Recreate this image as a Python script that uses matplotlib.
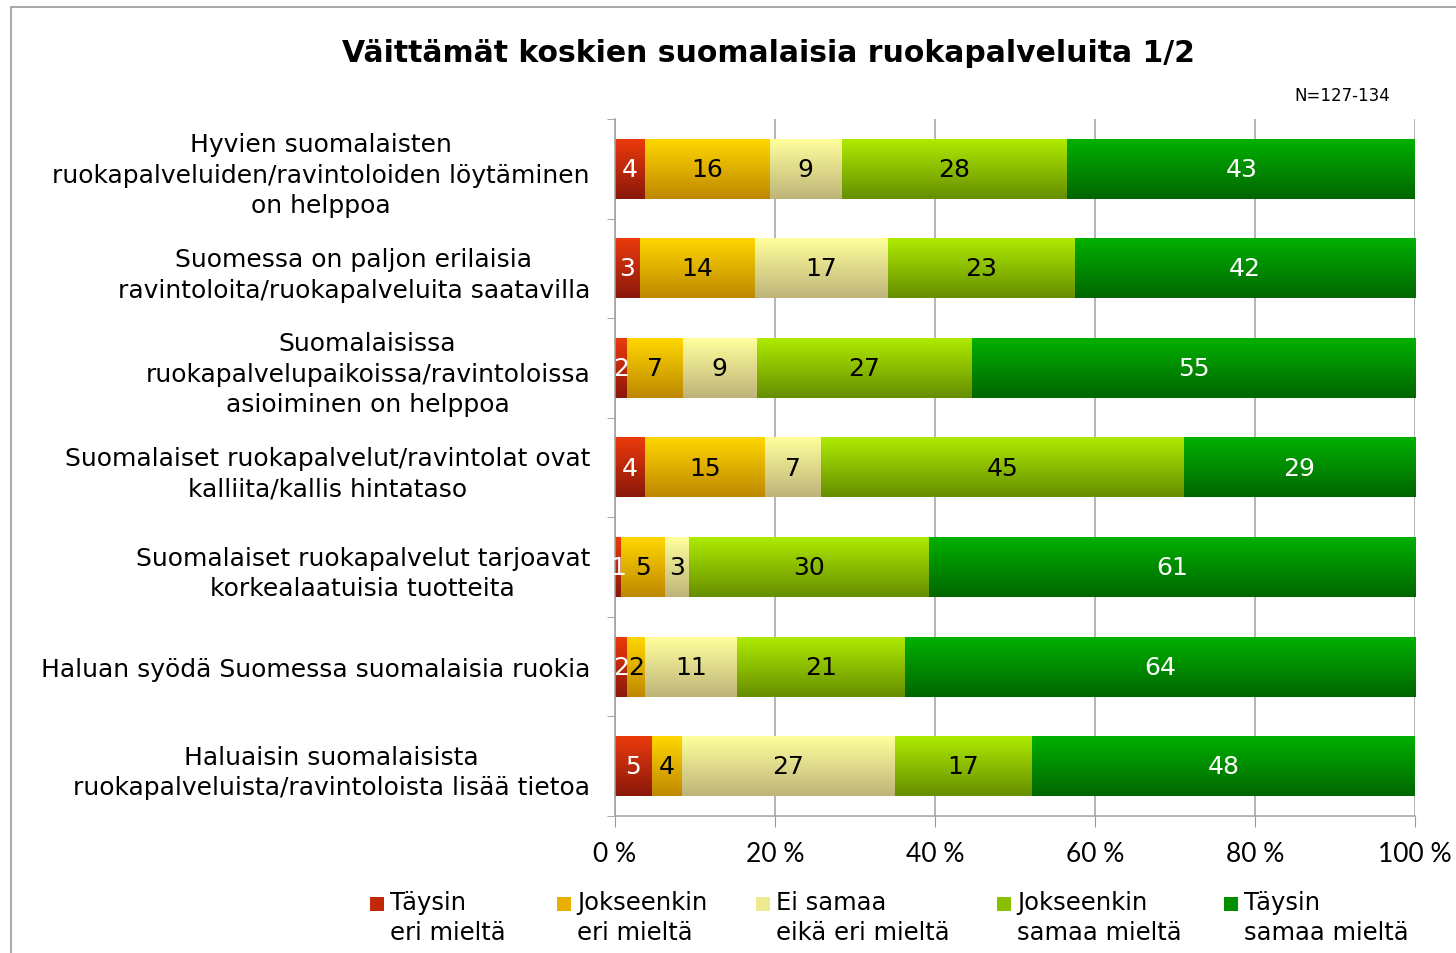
import numpy as np
import matplotlib.pyplot as plt
from matplotlib.patches import Rectangle
from matplotlib.colors import to_rgb

# Statements (top to bottom)
statements = [
    'Hyvien suomalaisten\nruokapalveluiden/ravintoloiden löytäminen\non helppoa',
    'Suomessa on paljon erilaisia\nravintoloita/ruokapalveluita saatavilla',
    'Suomalaisissa\nruokapalvelupaikoissa/ravintoloissa\nasioiminen on helppoa',
    'Suomalaiset ruokapalvelut/ravintolat ovat\nkalliita/kallis hintataso',
    'Suomalaiset ruokapalvelut tarjoavat\nkorkealaatuisia tuotteita',
    'Haluan syödä Suomessa suomalaisia ruokia',
    'Haluaisin suomalaisista\nruokapalveluista/ravintoloista lisää tietoa',
]

categories = ['Täysin\neri mieltä', 'Jokseenkin\neri mieltä', 'Ei samaa\neikä eri mieltä',
              'Jokseenkin\nsamaa mieltä', 'Täysin\nsamaa mieltä']

# shares in % (labels are the rounded values)
taysin_eri = [3.75, 3.1, 1.55, 3.8, 0.75, 1.55, 4.6]
jokseenkin_eri = [15.6, 14.4, 6.95, 15.0, 5.45, 2.25, 3.8]
ei_samaa = [9.0, 16.6, 9.2, 6.9, 3.0, 11.4, 26.55]
jokseenkin_samaa = [28.2, 23.4, 26.9, 45.4, 30.0, 21.0, 17.2]
taysin_samaa = [43.45, 42.5, 55.4, 28.9, 60.8, 63.8, 47.85]

series = [taysin_eri, jokseenkin_eri, ei_samaa, jokseenkin_samaa, taysin_samaa]

# gradient colours (top, bottom) and label colour
grad_top = ['#EA3A0C', '#FFD600', '#FFFF9C', '#AEEA00', '#00B000']
grad_bot = ['#8A180A', '#BE8800', '#BEB47A', '#668E00', '#006600']
mid_col = ['#C02A0A', '#E8B000', '#EEEA90', '#88C000', '#009000']
txt_col = ['white', 'black', 'black', 'black', 'white']

W, H = 1456, 954
fig = plt.figure(figsize=(W / 100, H / 100), dpi=100)
ax = fig.add_axes([615 / W, 137 / H, 800 / W, 697 / H])

y = np.arange(len(statements))
left = np.zeros(len(statements))
bar_h = 0.6

for i, vals in enumerate(series):
    vals = np.array(vals)
    bars = ax.barh(y, vals, left=left, height=bar_h, color='none', edgecolor='none', zorder=2)
    grad = np.linspace(0, 1, 64)[:, None, None]
    img = (1 - grad) * np.array(to_rgb(grad_top[i])) + grad * np.array(to_rgb(grad_bot[i]))
    for p in bars:
        x0, y0, w, h = p.get_x(), p.get_y(), p.get_width(), p.get_height()
        ax.imshow(img, extent=[x0, x0 + w, y0 + h, y0], origin='upper',
                  aspect='auto', zorder=2, interpolation='bilinear')
    ax.bar_label(bars, labels=[f'{round(v):d}' for v in vals], label_type='center',
                 color=txt_col[i], fontsize=18, zorder=3)
    left += vals

ax.set_xlim(0, 100)
ax.set_ylim(len(statements) - 0.5, -0.5)
ax.set_xticks(np.arange(0, 101, 20))
ax.set_xticklabels([f'{t} %' for t in range(0, 101, 20)], fontfamily='Lato', fontsize=19)
ax.set_yticks(y)
ax.set_yticklabels(statements, fontsize=18, linespacing=1.35, multialignment='center')
ax.set_yticks(np.arange(-0.5, len(statements), 1), minor=True)

ax.tick_params(axis='y', which='major', length=0, pad=18)
ax.tick_params(axis='y', which='minor', length=6, color='#999999', direction='out')
ax.tick_params(axis='x', which='major', length=8, color='#999999', pad=10)

ax.grid(axis='x', color='#A0A0A0', linewidth=1.1, zorder=0)
ax.set_axisbelow(True)
for s in ['top', 'right']:
    ax.spines[s].set_visible(False)
for s in ['left', 'bottom']:
    ax.spines[s].set_color('#A0A0A0')
    ax.spines[s].set_linewidth(1.1)

fig.text(768 / W, 1 - 54 / H, 'Väittämät koskien suomalaisia ruokapalveluita 1/2',
         ha='center', va='center', fontsize=21.5, fontweight='bold')
fig.text(1342 / W, 1 - 96 / H, 'N=127-134', ha='center', va='center', fontsize=12)

# legend drawn by hand
leg_x = [370, 557, 756, 997, 1224]
for i, lab in enumerate(categories):
    fig.add_artist(Rectangle((leg_x[i] / W, 1 - 912 / H), 14 / W, 14 / H,
                             transform=fig.transFigure, facecolor=mid_col[i], edgecolor='none'))
    fig.text((leg_x[i] + 20) / W, 1 - 891 / H, lab, ha='left', va='top', fontsize=17.5,
             linespacing=1.3)

# outer frame
fig.add_artist(Rectangle((10.5 / W, -0.1), 1.2, 1.1 - 7.7 / H,
                         transform=fig.transFigure, fill=False, edgecolor='#999999', linewidth=1.2))

fig.savefig('out.png', dpi=100)
